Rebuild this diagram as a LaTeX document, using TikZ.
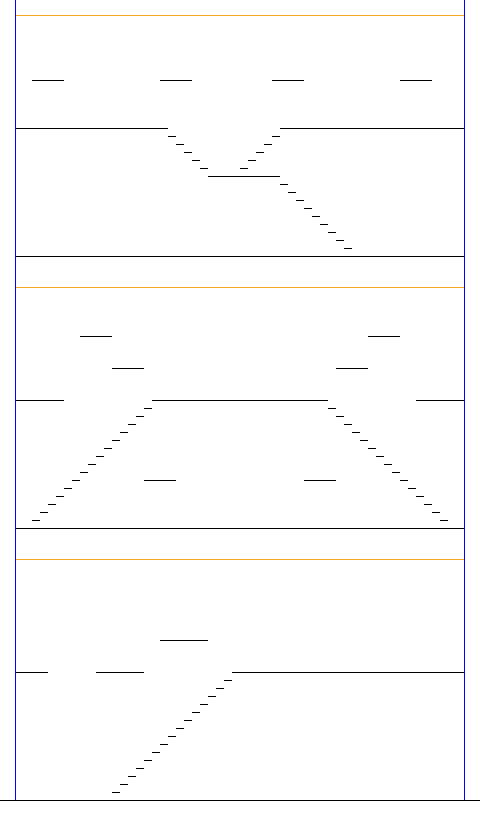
\documentclass[tikz,border=0pt]{standalone}
\usepackage{tikz}
\usetikzlibrary{calc}
\usepackage{xcolor}
\definecolor{wfblue}{HTML}{0000FF}
\definecolor{wforange}{HTML}{F5A623}

\begin{document}
\begin{tikzpicture}[
  x=1pt, y=-1pt,
  level/.style={draw=black, line width=1pt},
  rail/.style={draw=wfblue, line width=1pt},
  divider/.style={draw=wforange, line width=0.8pt}
]
  \useasboundingbox (0,0) rectangle (480,816);

  % Section dividers
  \foreach \y in {15,287,559}
    \draw[divider] (15,\y) -- (464,\y);

  % Section 1
  \foreach \x in {32,160,272,400}
    \draw[level] (\x,80) -- ++(32,0);
  \draw[level] (15,128) -- (168,128);
  \draw[level] (280,128) -- (464,128);
  \foreach \k in {0,...,4} {
    \draw[level] (168+8*\k,136+8*\k) -- ++(8,0);
    \draw[level] (272-8*\k,136+8*\k) -- ++(8,0);
  }
  \draw[level] (208,176) -- (280,176);
  \foreach \k in {0,...,8}
    \draw[level] (280+8*\k,184+8*\k) -- ++(8,0);
  \draw[level] (15,256) -- (464,256);

  % Section 2
  \draw[level] (80,336) -- (112,336);
  \draw[level] (368,336) -- (400,336);
  \draw[level] (112,368) -- (144,368);
  \draw[level] (336,368) -- (368,368);
  \draw[level] (15,400) -- (64,400);
  \draw[level] (152,400) -- (328,400);
  \draw[level] (416,400) -- (464,400);
  \foreach \k in {0,...,14} {
    \draw[level] (144-8*\k,408+8*\k) -- ++(8,0);
    \draw[level] (328+8*\k,408+8*\k) -- ++(8,0);
  }
  \draw[level] (144,480) -- (176,480);
  \draw[level] (304,480) -- (336,480);
  \draw[level] (15,528) -- (464,528);

  % Section 3
  \draw[level] (160,640) -- (208,640);
  \draw[level] (15,672) -- (48,672);
  \draw[level] (96,672) -- (144,672);
  \draw[level] (232,672) -- (464,672);
  \foreach \k in {0,...,14}
    \draw[level] (224-8*\k,680+8*\k) -- ++(8,0);
  \draw[level] (0,800) -- (480,800);

  % Rails
  \draw[rail] (15,0) -- (15,800);
  \draw[rail] (464,0) -- (464,800);
\end{tikzpicture}
\end{document}
